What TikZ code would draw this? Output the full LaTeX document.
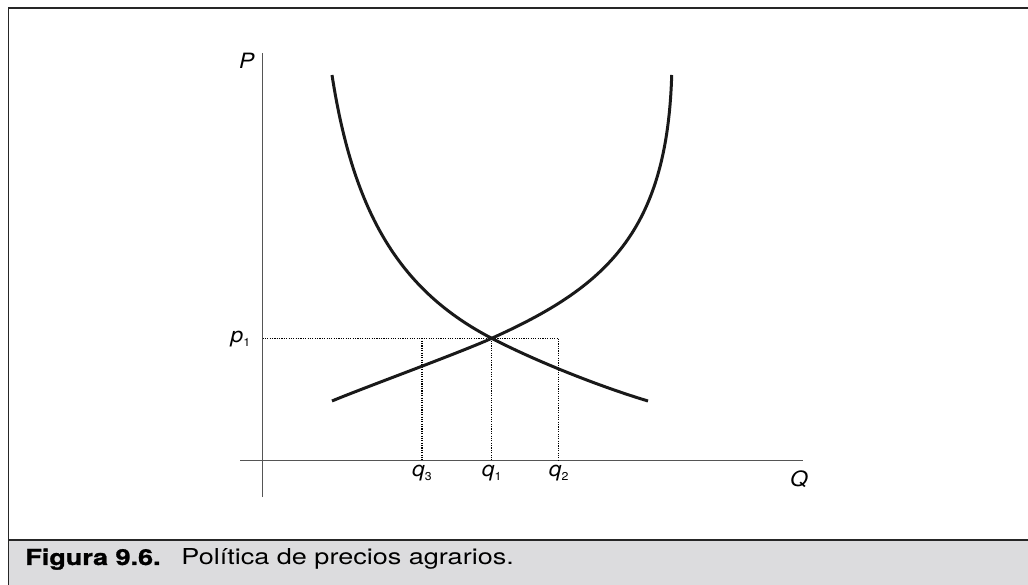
\documentclass[tikz,border=0pt]{standalone}
\usepackage{fontspec}
\setmainfont{TeX Gyre Heros}
\newfontfamily\capfont[FakeStretch=1.23, BoldFeatures={FakeBold=1.2}]{TeX Gyre Heros}
\newfontfamily\labfont[FakeStretch=1.08]{TeX Gyre Heros}
\usepackage{xcolor}
\usepackage{tikz}
\usetikzlibrary{positioning}

\definecolor{capgray}{RGB}{220,220,222}
\definecolor{axisgray}{RGB}{85,85,85}
\newcommand{\varsub}[2]{\textit{#1}\raisebox{-0.35ex}{\fontsize{6.5}{7}\selectfont #2}}

\begin{document}
\begin{tikzpicture}[
    font=\labfont\fontsize{12}{14}\selectfont,
    frame/.style={line width=1.1pt, black!85},
    axis/.style={line width=0.85pt, axisgray},
    curve/.style={line width=1.7pt, black!90, line cap=butt},
    guide/.style={line width=0.6pt, dash pattern=on 0.65pt off 0.7pt},
    varlab/.style={inner sep=0pt, anchor=base}
  ]
    \useasboundingbox (-5.25,-2.486) rectangle (15.31,9.214);

    % caption band and frame
    \fill[capgray] (-5.08,-1.586) rectangle (15.4,-2.6);
    \draw[frame] (15.4,9.054) -- (-5.08,9.054) -- (-5.08,-2.6);
    \draw[frame] (-5.08,-1.586) -- (15.4,-1.586);
    \node[anchor=base west, inner sep=0pt, font=\capfont\fontsize{12.5}{14}\selectfont] (cap) at (-4.75,-2.086)
      {\textbf{Figura 9.6.}\hspace{0.95em}Política de precios agrarios.};

    % axes
    \coordinate (O) at (0,0);
    \coordinate (ytop) at (0,8.15);
    \coordinate (ybot) at (0,-0.73);
    \coordinate (xleft) at (-0.45,0);
    \coordinate (xright) at (10.81,0);
    \draw[axis] (ybot) -- (ytop);
    \draw[axis] (xleft) -- (xright);
    \node[varlab] (P) at (-0.31,7.85) {\textit{P}};
    \node[varlab] (Q) at (10.73,-0.51) {\textit{Q}};

    % equilibrium and guides
    \coordinate (E) at (4.584,2.448);
    \coordinate (p1) at (0,2.448);
    \coordinate (g2) at (5.924,2.448);
    \coordinate (q3) at (3.19,0);
    \coordinate (q1) at (4.584,0);
    \coordinate (q2) at (5.924,0);
    \draw[guide] (p1) -- (g2) -- (q2);
    \draw[guide] (E) -- (q1);
    \draw[guide] (q3 |- E) -- (q3);
    \node[varlab, anchor=base east] (p1lab) at (-0.24,2.354) {\varsub{p}{1}};
    \node[varlab] (q3lab) at (3.19,-0.31) {\varsub{q}{3}};
    \node[varlab] (q1lab) at (4.584,-0.31) {\varsub{q}{1}};
    \node[varlab] (q2lab) at (5.924,-0.31) {\varsub{q}{2}};

    % demand
    \coordinate (Dtop) at (1.39,7.714);
    \coordinate (Dend) at (7.71,1.194);
    \draw[curve] (Dtop) .. controls (1.824,4.914) and (2.766,3.393) .. (E)
                        .. controls (5.471,1.987) and (6.752,1.481) .. (Dend);
    % supply
    \coordinate (Sstart) at (1.39,1.194);
    \coordinate (Stop) at (8.184,7.714);
    \draw[curve] (Sstart) .. controls (2.0,1.45) and (3.95,2.16) .. (E)
                          .. controls (6.864,3.473) and (8.09,4.564) .. (Stop);
  \end{tikzpicture}
\end{document}
